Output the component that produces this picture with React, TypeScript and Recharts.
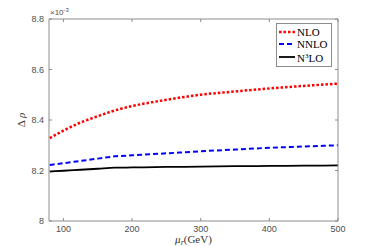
import React from 'react';
import { LineChart, Line, XAxis, YAxis, Label } from 'recharts';

// scale mu_r (GeV) and Delta rho (x 10^-3) for each order
const muR = [80, 100, 125, 150, 175, 200, 250, 300, 350, 400, 450, 500];
const nlo = [8.328, 8.358, 8.39, 8.415, 8.438, 8.455, 8.48, 8.5, 8.513, 8.525, 8.535, 8.544];
const nnlo = [8.222, 8.229, 8.238, 8.247, 8.256, 8.26, 8.268, 8.276, 8.283, 8.29, 8.295, 8.3];
const n3lo = [8.196, 8.199, 8.203, 8.207, 8.211, 8.212, 8.214, 8.215, 8.217, 8.218, 8.219, 8.22];

const xTicks = [100, 200, 300, 400, 500];
const yTicks = [8, 8.2, 8.4, 8.6, 8.8];

const data = muR.map((m, i) => ({ m, nlo: nlo[i], nnlo: nnlo[i], n3lo: n3lo[i] }));

const AXIS = '#8c8c8c';
const TICK_TEXT = '#4d4d4d';
const sans = '"Liberation Sans", Arial, sans-serif';
const serif = '"Liberation Serif", "Times New Roman", serif';

const BottomTick = (p: any) => (
  <g>
    <line x1={p.x} x2={p.x} y1={p.y} y2={p.y - 3} stroke={AXIS} />
    <text x={p.x} y={p.y + 11} textAnchor="middle" fontSize={9} fontFamily={sans} fill={TICK_TEXT}>
      {p.payload.value}
    </text>
  </g>
);
const TopTick = (p: any) => <line x1={p.x} x2={p.x} y1={p.y} y2={p.y + 3} stroke={AXIS} />;
// left ticks; the top one also carries the MATLAB-style x10^-3 multiplier
const LeftTick = (p: any) => (
  <g>
    <line x1={p.x} x2={p.x + 3} y1={p.y} y2={p.y} stroke={AXIS} />
    <text x={p.x - 5} y={p.y + 3} textAnchor="end" fontSize={9} fontFamily={sans} fill={TICK_TEXT}>
      {p.payload.value}
    </text>
    {p.index === yTicks.length - 1 && (
      <text x={p.x + 1} y={p.y - 4} textAnchor="start" fontSize={8} fontFamily={sans} fill={TICK_TEXT}>
        <tspan>×10</tspan>
        <tspan fontSize={6} dy={-3}>-3</tspan>
      </text>
    )}
  </g>
);
const RightTick = (p: any) => <line x1={p.x} x2={p.x - 3} y1={p.y} y2={p.y} stroke={AXIS} />;

const legendItems = [
  { key: 'nlo', label: 'NLO', color: '#ff0000', dash: '2.5 2', width: 2.5 },
  { key: 'nnlo', label: 'NNLO', color: '#0000ff', dash: '5 3', width: 2 },
  { key: 'n3lo', label: 'N3LO', color: '#000000', dash: undefined, width: 1.8 },
];

const ChartLegend = () => (
  <div
    style={{
      position: 'absolute',
      left: 276,
      top: 23,
      border: `1px solid ${AXIS}`,
      background: '#fff',
      padding: '2px 3px 2px 1px',
      fontFamily: serif,
      fontSize: 11,
      lineHeight: '12px',
      color: '#000',
    }}
  >
    {legendItems.map((it) => (
      <div key={it.key} style={{ display: 'flex', alignItems: 'center' }}>
        <svg width={19} height={12}>
          <line x1={1} x2={17} y1={6} y2={6} stroke={it.color} strokeWidth={it.width} strokeDasharray={it.dash} />
        </svg>
        <span>
          {it.key === 'n3lo' ? (
            <>
              N<sup style={{ fontSize: 7, verticalAlign: 4 }}>3</sup>LO
            </>
          ) : (
            it.label
          )}
        </span>
      </div>
    ))}
  </div>
);

const App: React.FC = () => {
  return (
    <div style={{ position: 'absolute', left: 0, top: 0, width: 374, height: 246, background: '#fff' }}>
      <LineChart width={374} height={246} data={data} margin={{ top: 18, right: 35, bottom: 24, left: 48 }}>
        <XAxis
          xAxisId="b"
          dataKey="m"
          type="number"
          domain={[79, 500]}
          ticks={xTicks}
          height={1}
          tickSize={0}
          tickMargin={0}
          tickLine={false}
          axisLine={{ stroke: AXIS }}
          tick={BottomTick}
          interval={0}
          allowDataOverflow
        >
          <Label
            content={({ viewBox }: any) => (
              <text
                x={viewBox.x + viewBox.width / 2}
                y={viewBox.y + 22}
                textAnchor="middle"
                fontFamily={serif}
                fontSize={11}
                fill="#333"
              >
                <tspan fontStyle="italic">μ</tspan>
                <tspan fontStyle="italic" fontSize={8} dy={2}>r</tspan>
                <tspan dy={-2}>(GeV)</tspan>
              </text>
            )}
          />
        </XAxis>
        <XAxis
          xAxisId="t"
          dataKey="m"
          type="number"
          orientation="top"
          domain={[79, 500]}
          ticks={xTicks}
          height={1}
          tickSize={0}
          tickMargin={0}
          tickLine={false}
          axisLine={{ stroke: AXIS }}
          tick={TopTick}
          interval={0}
          allowDataOverflow
        />
        <YAxis
          yAxisId="l"
          type="number"
          domain={[8, 8.8]}
          ticks={yTicks}
          width={1}
          tickSize={0}
          tickMargin={0}
          tickLine={false}
          axisLine={{ stroke: AXIS }}
          tick={LeftTick}
          interval={0}
          allowDataOverflow
        >
          <Label
            content={({ viewBox }: any) => (
              <text
                x={viewBox.x - 23}
                y={viewBox.y + viewBox.height / 2}
                transform={`rotate(-90, ${viewBox.x - 23}, ${viewBox.y + viewBox.height / 2})`}
                textAnchor="middle"
                fontFamily={serif}
                fontSize={11}
                fill="#333"
              >
                <tspan>Δ</tspan>
                <tspan fontStyle="italic" dx={2}>ρ</tspan>
              </text>
            )}
          />
        </YAxis>
        <YAxis
          yAxisId="r"
          orientation="right"
          type="number"
          domain={[8, 8.8]}
          ticks={yTicks}
          width={1}
          tickSize={0}
          tickMargin={0}
          tickLine={false}
          axisLine={{ stroke: AXIS }}
          tick={RightTick}
          interval={0}
          allowDataOverflow
        />
        <Line
          xAxisId="b"
          yAxisId="l"
          type="monotone"
          dataKey="nlo"
          stroke="#ff0000"
          strokeWidth={2.5}
          strokeDasharray="2.5 2"
          dot={false}
          isAnimationActive={false}
        />
        <Line
          xAxisId="b"
          yAxisId="l"
          type="monotone"
          dataKey="nnlo"
          stroke="#0000ff"
          strokeWidth={2}
          strokeDasharray="5 3"
          dot={false}
          isAnimationActive={false}
        />
        <Line
          xAxisId="b"
          yAxisId="l"
          type="monotone"
          dataKey="n3lo"
          stroke="#000000"
          strokeWidth={1.8}
          dot={false}
          isAnimationActive={false}
        />
      </LineChart>
      <ChartLegend />
    </div>
  );
};

export default App;
